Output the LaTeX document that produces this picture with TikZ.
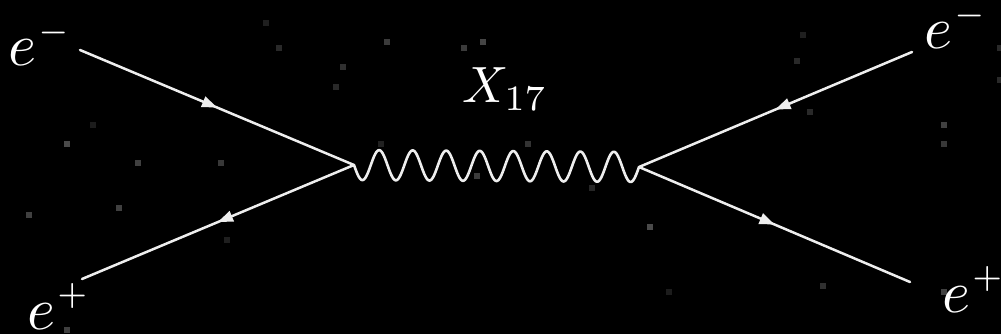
\documentclass[tikz,border=0pt]{standalone}
\usetikzlibrary{arrows.meta,decorations.markings,calc}
\definecolor{linecol}{HTML}{EEEEEE}
\newcommand\chargesup[1]{^{\kern0.3pt\raisebox{0.6pt}{$\scriptscriptstyle#1$}}}
\begin{document}
\begin{tikzpicture}[x=1pt,y=-1pt,
  fermion/.style={color=linecol, line width=2.5pt, line cap=round,
    postaction={decorate},
    decoration={markings, mark=at position 0.5 with {\arrow{Triangle[length=15pt,width=11pt]}}}},
  boson/.style={draw=linecol, line width=2.6pt, line join=round},
  lbl/.style={text=white, inner sep=0pt, anchor=base west},
  elbl/.style={lbl, font=\fontsize{10}{10}\selectfont, scale=6},
  xlbl/.style={lbl, font=\fontsize{10}{10}\selectfont, scale=5.1},
  star/.style={inner sep=0pt, minimum size=6pt, draw=none, rectangle}
]
\fill[black] (0,0) rectangle (1001,334);
\useasboundingbox (0,0) rectangle (1001,334);

% background specks
\foreach \px/\py/\g [count=\i] in {
  93/125/11, 67/144/29, 138/163/25, 221/163/22, 29/215/25, 119/208/25,
  227/240/12, 67/330/25, 266/23/12, 279/48/16, 343/67/19, 336/87/16,
  387/42/23, 464/48/23, 483/42/27, 381/144/13, 528/144/20, 477/176/23,
  592/188/15, 650/227/29, 669/292/11, 803/35/12, 797/61/16, 810/112/16,
  944/125/25, 944/144/22, 1000/48/16, 1000/80/16, 823/286/19, 944/292/25}
  { \node[star, fill=white!\g!black] (s\i) at (\px,\py) {}; }

% external points and vertices
\coordinate (inE) at (80,50);
\coordinate (inP) at (82,279);
\coordinate (outE) at (912,52);
\coordinate (outP) at (910,282);
\coordinate (v1) at (354,165);
\coordinate (v2) at (639,167);

% fermion lines
\draw[fermion] (inE) -- (v1);
\draw[fermion] (v1) -- (inP);
\draw[fermion] (outE) -- (v2);
\draw[fermion] (v2) -- (outP);

% boson (from v1 to v2: 285 units, 8.5 periods)
\begin{scope}[shift={(v1)}]
\draw[boson] plot[domain=0:285, samples=500]
  ({\x},{0.00702*\x + 15*sin(10.7368*\x)});
\end{scope}

% labels
\node[elbl] (lTL) at (7,66) {$e\chargesup{-}$};
\node[elbl] (lBL) at (26,329) {$e\chargesup{+}$};
\node[elbl] (lTR) at (923,49) {$e\chargesup{-}$};
\node[elbl] (lBR) at (941,312) {$e\chargesup{+}$};
\node[xlbl] (lX) at (461,103) {$X_{17}$};
\end{tikzpicture}
\end{document}
